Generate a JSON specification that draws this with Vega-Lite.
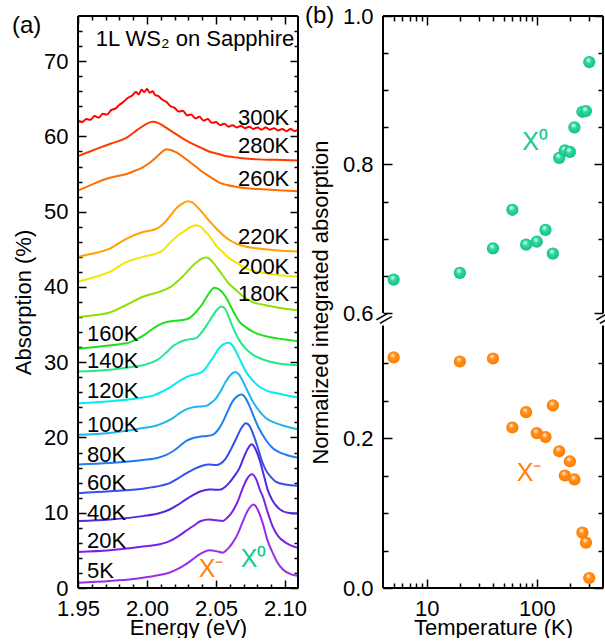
{
"$schema": "https://vega.github.io/schema/vega-lite/v6.json",
"background": "white",
"padding": {"left": 12, "top": 4, "right": 0, "bottom": 0},
"config": {
 "font": "Liberation Sans",
 "view": {"stroke": null},
 "axis": {"labelFont": "Liberation Sans", "labelFontSize": 22, "titleFont": "Liberation Sans", "titleFontSize": 22, "titleFontWeight": "normal", "labelColor": "black", "titleColor": "black", "domainColor": "black", "tickColor": "black", "domainWidth": 2, "tickWidth": 1.5, "grid": false, "labelFlush": false, "labelOverlap": false},
 "text": {"font": "Liberation Sans"}
},
"datasets": {
 "spectra": [
  {"T":"300K","E":1.950,"A":62.1},{"T":"300K","E":1.953,"A":61.9},{"T":"300K","E":1.956,"A":62.3},{"T":"300K","E":1.959,"A":62.2},{"T":"300K","E":1.962,"A":62.7},{"T":"300K","E":1.965,"A":62.5},{"T":"300K","E":1.968,"A":63.0},{"T":"300K","E":1.971,"A":62.9},{"T":"300K","E":1.974,"A":63.5},{"T":"300K","E":1.977,"A":63.7},{"T":"300K","E":1.980,"A":64.2},{"T":"300K","E":1.983,"A":64.6},{"T":"300K","E":1.986,"A":65.1},{"T":"300K","E":1.989,"A":65.4},{"T":"300K","E":1.992,"A":65.9},{"T":"300K","E":1.994,"A":65.6},{"T":"300K","E":1.996,"A":66.2},{"T":"300K","E":1.998,"A":65.9},{"T":"300K","E":2.000,"A":66.3},{"T":"300K","E":2.002,"A":65.8},{"T":"300K","E":2.004,"A":66.0},{"T":"300K","E":2.006,"A":65.5},{"T":"300K","E":2.008,"A":65.4},{"T":"300K","E":2.011,"A":64.9},{"T":"300K","E":2.014,"A":64.6},{"T":"300K","E":2.017,"A":64.0},{"T":"300K","E":2.020,"A":63.8},{"T":"300K","E":2.023,"A":63.3},{"T":"300K","E":2.026,"A":63.4},{"T":"300K","E":2.029,"A":62.8},{"T":"300K","E":2.032,"A":62.9},{"T":"300K","E":2.035,"A":62.4},{"T":"300K","E":2.038,"A":62.6},{"T":"300K","E":2.041,"A":62.1},{"T":"300K","E":2.044,"A":62.3},{"T":"300K","E":2.047,"A":61.8},{"T":"300K","E":2.050,"A":61.9},{"T":"300K","E":2.053,"A":61.5},{"T":"300K","E":2.056,"A":61.7},{"T":"300K","E":2.059,"A":61.3},{"T":"300K","E":2.062,"A":61.5},{"T":"300K","E":2.065,"A":61.2},{"T":"300K","E":2.068,"A":61.4},{"T":"300K","E":2.071,"A":61.1},{"T":"300K","E":2.074,"A":61.3},{"T":"300K","E":2.077,"A":61.0},{"T":"300K","E":2.080,"A":61.2},{"T":"300K","E":2.083,"A":60.9},{"T":"300K","E":2.086,"A":61.2},{"T":"300K","E":2.089,"A":60.9},{"T":"300K","E":2.092,"A":61.1},{"T":"300K","E":2.095,"A":60.8},{"T":"300K","E":2.098,"A":61.0},{"T":"300K","E":2.101,"A":60.7},{"T":"300K","E":2.104,"A":61.0},{"T":"300K","E":2.107,"A":60.7},{"T":"300K","E":2.1094,"A":60.9},
  {"T":"280K","E":1.950,"A":57.4},{"T":"280K","E":1.960,"A":58.1},{"T":"280K","E":1.973,"A":59.0},{"T":"280K","E":1.985,"A":59.8},{"T":"280K","E":1.994,"A":61.0},{"T":"280K","E":2.000,"A":61.7},{"T":"280K","E":2.004,"A":61.95},{"T":"280K","E":2.008,"A":61.8},{"T":"280K","E":2.011,"A":61.5},{"T":"280K","E":2.016,"A":60.9},{"T":"280K","E":2.021,"A":60.3},{"T":"280K","E":2.027,"A":59.6},{"T":"280K","E":2.033,"A":59.0},{"T":"280K","E":2.039,"A":58.5},{"T":"280K","E":2.045,"A":58.0},{"T":"280K","E":2.051,"A":57.7},{"T":"280K","E":2.057,"A":57.4},{"T":"280K","E":2.063,"A":57.25},{"T":"280K","E":2.069,"A":57.1},{"T":"280K","E":2.081,"A":56.95},{"T":"280K","E":2.093,"A":56.9},{"T":"280K","E":2.1094,"A":56.8},
  {"T":"260K","E":1.950,"A":52.8},{"T":"260K","E":1.960,"A":53.6},{"T":"260K","E":1.973,"A":54.5},{"T":"260K","E":1.985,"A":55.0},{"T":"260K","E":1.992,"A":55.5},{"T":"260K","E":1.997,"A":55.9},{"T":"260K","E":2.002,"A":56.5},{"T":"260K","E":2.0065,"A":57.2},{"T":"260K","E":2.010,"A":57.8},{"T":"260K","E":2.014,"A":58.3},{"T":"260K","E":2.017,"A":58.2},{"T":"260K","E":2.021,"A":57.9},{"T":"260K","E":2.026,"A":57.3},{"T":"260K","E":2.031,"A":56.6},{"T":"260K","E":2.036,"A":55.9},{"T":"260K","E":2.040,"A":55.3},{"T":"260K","E":2.046,"A":54.6},{"T":"260K","E":2.052,"A":53.9},{"T":"260K","E":2.058,"A":53.55},{"T":"260K","E":2.0645,"A":53.3},{"T":"260K","E":2.072,"A":53.1},{"T":"260K","E":2.081,"A":53.0},{"T":"260K","E":2.095,"A":52.85},{"T":"260K","E":2.1094,"A":52.7},
  {"T":"220K","E":1.950,"A":44.0},{"T":"220K","E":1.960,"A":44.4},{"T":"220K","E":1.973,"A":45.1},{"T":"220K","E":1.985,"A":46.4},{"T":"220K","E":1.997,"A":47.3},{"T":"220K","E":2.0065,"A":47.7},{"T":"220K","E":2.010,"A":48.1},{"T":"220K","E":2.014,"A":48.8},{"T":"220K","E":2.018,"A":49.7},{"T":"220K","E":2.021,"A":50.4},{"T":"220K","E":2.025,"A":51.0},{"T":"220K","E":2.0295,"A":51.4},{"T":"220K","E":2.033,"A":51.2},{"T":"220K","E":2.0355,"A":50.8},{"T":"220K","E":2.040,"A":49.9},{"T":"220K","E":2.045,"A":48.8},{"T":"220K","E":2.050,"A":47.8},{"T":"220K","E":2.055,"A":46.9},{"T":"220K","E":2.060,"A":46.2},{"T":"220K","E":2.0645,"A":45.75},{"T":"220K","E":2.072,"A":45.35},{"T":"220K","E":2.081,"A":45.1},{"T":"220K","E":2.095,"A":44.85},{"T":"220K","E":2.1094,"A":44.7},
  {"T":"200K","E":1.950,"A":40.7},{"T":"200K","E":1.960,"A":41.2},{"T":"200K","E":1.973,"A":42.0},{"T":"200K","E":1.985,"A":43.3},{"T":"200K","E":1.997,"A":44.0},{"T":"200K","E":2.006,"A":44.4},{"T":"200K","E":2.011,"A":44.8},{"T":"200K","E":2.016,"A":45.75},{"T":"200K","E":2.021,"A":46.6},{"T":"200K","E":2.026,"A":47.3},{"T":"200K","E":2.031,"A":47.9},{"T":"200K","E":2.0355,"A":48.2},{"T":"200K","E":2.039,"A":48.0},{"T":"200K","E":2.0415,"A":47.5},{"T":"200K","E":2.046,"A":46.6},{"T":"200K","E":2.050,"A":45.5},{"T":"200K","E":2.055,"A":44.6},{"T":"200K","E":2.0597,"A":43.8},{"T":"200K","E":2.065,"A":43.2},{"T":"200K","E":2.069,"A":42.7},{"T":"200K","E":2.076,"A":42.2},{"T":"200K","E":2.084,"A":41.9},{"T":"200K","E":2.095,"A":41.6},{"T":"200K","E":2.1094,"A":41.4},
  {"T":"180K","E":1.950,"A":36.0},{"T":"180K","E":1.960,"A":36.2},{"T":"180K","E":1.973,"A":36.6},{"T":"180K","E":1.985,"A":37.6},{"T":"180K","E":1.997,"A":38.7},{"T":"180K","E":2.009,"A":39.35},{"T":"180K","E":2.014,"A":39.7},{"T":"180K","E":2.0186,"A":40.2},{"T":"180K","E":2.023,"A":40.9},{"T":"180K","E":2.028,"A":41.8},{"T":"180K","E":2.032,"A":42.6},{"T":"180K","E":2.0355,"A":43.2},{"T":"180K","E":2.039,"A":43.7},{"T":"180K","E":2.0428,"A":43.9},{"T":"180K","E":2.0455,"A":43.7},{"T":"180K","E":2.0476,"A":43.3},{"T":"180K","E":2.051,"A":42.5},{"T":"180K","E":2.0548,"A":41.55},{"T":"180K","E":2.059,"A":40.5},{"T":"180K","E":2.0645,"A":39.6},{"T":"180K","E":2.070,"A":38.7},{"T":"180K","E":2.0766,"A":38.0},{"T":"180K","E":2.085,"A":37.6},{"T":"180K","E":2.0935,"A":37.3},{"T":"180K","E":2.1094,"A":36.9},
  {"T":"160K","E":1.950,"A":31.8},{"T":"160K","E":1.966,"A":32.1},{"T":"160K","E":1.980,"A":32.4},{"T":"160K","E":1.987,"A":32.6},{"T":"160K","E":1.993,"A":33.1},{"T":"160K","E":1.997,"A":33.5},{"T":"160K","E":2.0046,"A":34.5},{"T":"160K","E":2.009,"A":35.0},{"T":"160K","E":2.0143,"A":35.35},{"T":"160K","E":2.021,"A":35.5},{"T":"160K","E":2.026,"A":35.6},{"T":"160K","E":2.031,"A":35.9},{"T":"160K","E":2.0336,"A":36.3},{"T":"160K","E":2.037,"A":37.0},{"T":"160K","E":2.040,"A":37.7},{"T":"160K","E":2.044,"A":38.9},{"T":"160K","E":2.0488,"A":39.9},{"T":"160K","E":2.052,"A":39.7},{"T":"160K","E":2.057,"A":38.7},{"T":"160K","E":2.061,"A":37.3},{"T":"160K","E":2.0645,"A":36.1},{"T":"160K","E":2.0669,"A":35.4},{"T":"160K","E":2.072,"A":34.6},{"T":"160K","E":2.0766,"A":34.05},{"T":"160K","E":2.085,"A":33.5},{"T":"160K","E":2.0935,"A":33.2},{"T":"160K","E":2.1094,"A":32.8},
  {"T":"140K","E":1.950,"A":28.75},{"T":"140K","E":1.973,"A":29.0},{"T":"140K","E":1.990,"A":29.4},{"T":"140K","E":1.997,"A":29.6},{"T":"140K","E":2.004,"A":30.0},{"T":"140K","E":2.009,"A":30.5},{"T":"140K","E":2.014,"A":31.3},{"T":"140K","E":2.0186,"A":32.1},{"T":"140K","E":2.023,"A":32.6},{"T":"140K","E":2.028,"A":32.95},{"T":"140K","E":2.0355,"A":33.2},{"T":"140K","E":2.040,"A":34.05},{"T":"140K","E":2.045,"A":35.4},{"T":"140K","E":2.050,"A":36.8},{"T":"140K","E":2.054,"A":37.4},{"T":"140K","E":2.057,"A":37.0},{"T":"140K","E":2.0597,"A":35.8},{"T":"140K","E":2.063,"A":34.3},{"T":"140K","E":2.0669,"A":32.9},{"T":"140K","E":2.071,"A":31.9},{"T":"140K","E":2.0766,"A":31.0},{"T":"140K","E":2.085,"A":30.3},{"T":"140K","E":2.0935,"A":29.9},{"T":"140K","E":2.1094,"A":29.6},
  {"T":"120K","E":1.950,"A":24.55},{"T":"120K","E":1.973,"A":24.8},{"T":"120K","E":1.997,"A":25.3},{"T":"120K","E":2.005,"A":25.6},{"T":"120K","E":2.011,"A":26.1},{"T":"120K","E":2.016,"A":26.6},{"T":"120K","E":2.021,"A":27.2},{"T":"120K","E":2.026,"A":27.8},{"T":"120K","E":2.031,"A":28.2},{"T":"120K","E":2.035,"A":28.4},{"T":"120K","E":2.039,"A":28.6},{"T":"120K","E":2.042,"A":29.1},{"T":"120K","E":2.045,"A":29.85},{"T":"120K","E":2.0485,"A":30.8},{"T":"120K","E":2.052,"A":31.8},{"T":"120K","E":2.0555,"A":32.4},{"T":"120K","E":2.0592,"A":32.6},{"T":"120K","E":2.062,"A":32.2},{"T":"120K","E":2.0645,"A":31.4},{"T":"120K","E":2.068,"A":30.1},{"T":"120K","E":2.0717,"A":28.75},{"T":"120K","E":2.076,"A":27.7},{"T":"120K","E":2.081,"A":26.8},{"T":"120K","E":2.087,"A":26.2},{"T":"120K","E":2.0935,"A":25.9},{"T":"120K","E":2.1094,"A":25.3},
  {"T":"100K","E":1.950,"A":20.35},{"T":"100K","E":1.973,"A":20.6},{"T":"100K","E":1.997,"A":21.25},{"T":"100K","E":2.007,"A":21.6},{"T":"100K","E":2.014,"A":22.1},{"T":"100K","E":2.019,"A":22.6},{"T":"100K","E":2.0234,"A":23.2},{"T":"100K","E":2.028,"A":23.7},{"T":"100K","E":2.033,"A":24.0},{"T":"100K","E":2.038,"A":24.1},{"T":"100K","E":2.0428,"A":24.2},{"T":"100K","E":2.0465,"A":24.6},{"T":"100K","E":2.050,"A":25.2},{"T":"100K","E":2.0535,"A":26.2},{"T":"100K","E":2.057,"A":27.4},{"T":"100K","E":2.0605,"A":28.3},{"T":"100K","E":2.064,"A":28.7},{"T":"100K","E":2.0665,"A":28.4},{"T":"100K","E":2.069,"A":27.65},{"T":"100K","E":2.0725,"A":26.3},{"T":"100K","E":2.0766,"A":24.8},{"T":"100K","E":2.081,"A":23.6},{"T":"100K","E":2.086,"A":22.6},{"T":"100K","E":2.092,"A":22.0},{"T":"100K","E":2.0983,"A":21.6},{"T":"100K","E":2.1094,"A":21.1},
  {"T":"80K","E":1.950,"A":16.4},{"T":"80K","E":1.973,"A":16.6},{"T":"80K","E":1.997,"A":17.0},{"T":"80K","E":2.008,"A":17.3},{"T":"80K","E":2.014,"A":17.7},{"T":"80K","E":2.019,"A":18.2},{"T":"80K","E":2.0234,"A":18.8},{"T":"80K","E":2.028,"A":19.5},{"T":"80K","E":2.033,"A":19.9},{"T":"80K","E":2.038,"A":20.1},{"T":"80K","E":2.0435,"A":20.2},{"T":"80K","E":2.0476,"A":20.35},{"T":"80K","E":2.0515,"A":21.0},{"T":"80K","E":2.055,"A":22.1},{"T":"80K","E":2.0585,"A":23.5},{"T":"80K","E":2.062,"A":24.8},{"T":"80K","E":2.0655,"A":25.5},{"T":"80K","E":2.0686,"A":25.7},{"T":"80K","E":2.0715,"A":25.2},{"T":"80K","E":2.074,"A":24.3},{"T":"80K","E":2.0775,"A":22.7},{"T":"80K","E":2.081,"A":21.25},{"T":"80K","E":2.086,"A":19.7},{"T":"80K","E":2.091,"A":18.6},{"T":"80K","E":2.1007,"A":17.7},{"T":"80K","E":2.1094,"A":17.3},
  {"T":"60K","E":1.950,"A":12.6},{"T":"60K","E":1.973,"A":12.85},{"T":"60K","E":1.997,"A":13.2},{"T":"60K","E":2.010,"A":13.6},{"T":"60K","E":2.016,"A":13.9},{"T":"60K","E":2.022,"A":14.5},{"T":"60K","E":2.028,"A":15.2},{"T":"60K","E":2.034,"A":15.8},{"T":"60K","E":2.040,"A":16.25},{"T":"60K","E":2.045,"A":16.4},{"T":"60K","E":2.050,"A":16.35},{"T":"60K","E":2.053,"A":16.5},{"T":"60K","E":2.057,"A":17.2},{"T":"60K","E":2.061,"A":18.5},{"T":"60K","E":2.065,"A":20.0},{"T":"60K","E":2.0685,"A":21.3},{"T":"60K","E":2.0717,"A":21.9},{"T":"60K","E":2.0745,"A":21.5},{"T":"60K","E":2.077,"A":20.4},{"T":"60K","E":2.080,"A":18.8},{"T":"60K","E":2.083,"A":17.0},{"T":"60K","E":2.086,"A":15.7},{"T":"60K","E":2.090,"A":14.7},{"T":"60K","E":2.0935,"A":14.1},{"T":"60K","E":2.100,"A":13.75},{"T":"60K","E":2.1094,"A":13.6},
  {"T":"40K","E":1.950,"A":8.9},{"T":"40K","E":1.973,"A":9.1},{"T":"40K","E":1.997,"A":9.55},{"T":"40K","E":2.010,"A":10.0},{"T":"40K","E":2.016,"A":10.4},{"T":"40K","E":2.022,"A":11.0},{"T":"40K","E":2.028,"A":11.75},{"T":"40K","E":2.034,"A":12.4},{"T":"40K","E":2.039,"A":12.85},{"T":"40K","E":2.045,"A":13.1},{"T":"40K","E":2.050,"A":13.05},{"T":"40K","E":2.0536,"A":13.1},{"T":"40K","E":2.057,"A":13.5},{"T":"40K","E":2.0597,"A":14.0},{"T":"40K","E":2.063,"A":14.8},{"T":"40K","E":2.0669,"A":15.9},{"T":"40K","E":2.070,"A":17.3},{"T":"40K","E":2.073,"A":18.5},{"T":"40K","E":2.0759,"A":19.1},{"T":"40K","E":2.0785,"A":18.5},{"T":"40K","E":2.0819,"A":16.8},{"T":"40K","E":2.085,"A":14.7},{"T":"40K","E":2.0875,"A":13.0},{"T":"40K","E":2.091,"A":11.6},{"T":"40K","E":2.0959,"A":10.5},{"T":"40K","E":2.102,"A":10.0},{"T":"40K","E":2.1094,"A":9.9},
  {"T":"20K","E":1.950,"A":4.77},{"T":"20K","E":1.973,"A":5.0},{"T":"20K","E":1.997,"A":5.5},{"T":"20K","E":2.010,"A":5.85},{"T":"20K","E":2.016,"A":6.2},{"T":"20K","E":2.022,"A":6.8},{"T":"20K","E":2.028,"A":7.55},{"T":"20K","E":2.034,"A":8.3},{"T":"20K","E":2.039,"A":8.9},{"T":"20K","E":2.045,"A":9.1},{"T":"20K","E":2.050,"A":9.0},{"T":"20K","E":2.0548,"A":8.9},{"T":"20K","E":2.058,"A":9.3},{"T":"20K","E":2.062,"A":10.2},{"T":"20K","E":2.066,"A":11.6},{"T":"20K","E":2.069,"A":13.1},{"T":"20K","E":2.0725,"A":14.5},{"T":"20K","E":2.0761,"A":15.1},{"T":"20K","E":2.079,"A":14.5},{"T":"20K","E":2.0819,"A":13.0},{"T":"20K","E":2.0838,"A":12.2},{"T":"20K","E":2.087,"A":10.3},{"T":"20K","E":2.091,"A":8.2},{"T":"20K","E":2.095,"A":6.9},{"T":"20K","E":2.1007,"A":6.0},{"T":"20K","E":2.105,"A":5.6},{"T":"20K","E":2.1094,"A":5.35},
  {"T":"5K","E":1.950,"A":0.7},{"T":"5K","E":1.973,"A":0.93},{"T":"5K","E":1.990,"A":1.2},{"T":"5K","E":1.997,"A":1.37},{"T":"5K","E":2.008,"A":1.7},{"T":"5K","E":2.016,"A":2.03},{"T":"5K","E":2.022,"A":2.5},{"T":"5K","E":2.028,"A":3.14},{"T":"5K","E":2.033,"A":3.8},{"T":"5K","E":2.038,"A":4.46},{"T":"5K","E":2.042,"A":4.85},{"T":"5K","E":2.045,"A":5.0},{"T":"5K","E":2.050,"A":4.9},{"T":"5K","E":2.0548,"A":4.7},{"T":"5K","E":2.058,"A":5.1},{"T":"5K","E":2.062,"A":6.0},{"T":"5K","E":2.066,"A":7.3},{"T":"5K","E":2.069,"A":8.65},{"T":"5K","E":2.073,"A":10.3},{"T":"5K","E":2.0773,"A":11.1},{"T":"5K","E":2.0805,"A":10.3},{"T":"5K","E":2.0838,"A":8.65},{"T":"5K","E":2.087,"A":6.5},{"T":"5K","E":2.091,"A":4.7},{"T":"5K","E":2.0945,"A":3.4},{"T":"5K","E":2.0983,"A":2.5},{"T":"5K","E":2.104,"A":1.85},{"T":"5K","E":2.1094,"A":1.6}
 ],
 "labelsRight": [
  {"label":"300K","E":2.1031,"A":62.5},{"label":"280K","E":2.1031,"A":58.7},{"label":"260K","E":2.1031,"A":54.3},{"label":"220K","E":2.1031,"A":46.6},{"label":"200K","E":2.1031,"A":42.7},{"label":"180K","E":2.1031,"A":39.0}
 ],
 "labelsLeft": [
  {"label":"160K","E":1.9565,"A":33.7},{"label":"140K","E":1.9565,"A":30.2},{"label":"120K","E":1.9565,"A":26.2},{"label":"100K","E":1.9565,"A":21.7},{"label":"80K","E":1.9565,"A":17.7},{"label":"60K","E":1.9565,"A":13.9},{"label":"40K","E":1.9565,"A":9.9},{"label":"20K","E":1.9565,"A":6.2},{"label":"5K","E":1.9565,"A":2.25}
 ],
 "peakTrion": [{"label":"X⁻","E":2.0464,"A":2.52}],
 "peakExciton": [{"label":"X⁰","E":2.0772,"A":3.9}],
 "sample": [{"label":"1L WS₂ on Sapphire","E":2.0348,"A":73.0}],
 "integrated": [
  {"T":5,"X0":0.645,"Xm":0.3075},{"T":20,"X0":0.654,"Xm":0.302},{"T":40,"X0":0.687,"Xm":0.306},{"T":60,"X0":0.739,"Xm":0.214},{"T":80,"X0":0.692,"Xm":0.2345},{"T":100,"X0":0.696,"Xm":0.2066},{"T":120,"X0":0.712,"Xm":0.2013},{"T":140,"X0":0.680,"Xm":0.2434},{"T":160,"X0":0.809,"Xm":0.1823},{"T":180,"X0":0.819,"Xm":0.150},{"T":200,"X0":0.817,"Xm":0.169},{"T":220,"X0":0.850,"Xm":0.1447},{"T":260,"X0":0.871,"Xm":0.0739},{"T":280,"X0":0.872,"Xm":0.0606},{"T":300,"X0":0.938,"Xm":0.0133}
 ],
 "tagExciton": [{"label":"X⁰","T":96.5,"v":0.83}],
 "tagTrion": [{"label":"X⁻","T":85,"v":0.153}],
 "segments": [{"lo":0,"hi":0.35},{"lo":0.6,"hi":1.0}],
 "sidesA": [{"lo":0,"hi":38},{"lo":38,"hi":76}],
 "edgesA": [{"from":1.95,"to":2.03},{"from":2.03,"to":2.1094}],
 "edgesB": [{"from":4,"to":40},{"from":40,"to":400}],
 "one": [{}]
},
"bounds": "flush",
"spacing": 85,
"hconcat": [
 {
  "width": 220, "height": 572,
  "title": {"text": "(a)", "anchor": "start", "frame": "group", "dx": -66, "dy": 27, "fontSize": 24, "fontWeight": "normal", "font": "Liberation Sans", "color": "black"},
  "resolve": {"axis": {"x": "independent", "y": "independent"}},
  "layer": [
   {
    "data": {"name": "spectra"},
    "mark": {"type": "line", "strokeWidth": 2, "interpolate": "monotone", "clip": true},
    "encoding": {
     "x": {"field": "E", "type": "quantitative", "scale": {"domain": [1.95, 2.1094], "nice": false, "zero": false},
           "axis": {"orient": "bottom", "values": [1.95, 2.0, 2.05, 2.1], "format": ".2f", "title": "Energy (eV)", "domain": false, "tickSize": 8, "offset": -8, "labelPadding": 10, "titlePadding": -2}},
     "y": {"field": "A", "type": "quantitative", "scale": {"domain": [0, 76], "nice": false, "zero": false},
           "axis": {"orient": "left", "values": [0, 10, 20, 30, 40, 50, 60, 70], "title": "Absorption (%)", "domain": false, "tickSize": 8, "offset": -8, "labelPadding": 10, "titlePadding": 8}},
     "color": {"field": "T", "type": "nominal", "legend": null,
       "scale": {"domain": ["300K","280K","260K","220K","200K","180K","160K","140K","120K","100K","80K","60K","40K","20K","5K"],
                 "range": ["#ff0000","#ff3a00","#ff6e00","#ffa200","#f2e600","#8ee000","#1ee01e","#22e88c","#08eaf2","#21b4f0","#1f7cf2","#3550ec","#5626e0","#7a22e6","#9a2ee8"]}}
    }
   },
   {
    "data": {"name": "labelsRight"},
    "mark": {"type": "text", "align": "right", "baseline": "middle", "fontSize": 22, "color": "black"},
    "encoding": {
     "x": {"field": "E", "type": "quantitative", "axis": {"orient": "bottom", "values": [1.96,1.97,1.98,1.99,2.01,2.02,2.03,2.04,2.06,2.07,2.08,2.09], "labels": false, "domain": false, "title": null, "tickSize": 4, "offset": -4}},
     "y": {"field": "A", "type": "quantitative", "axis": {"orient": "left", "values": [2,4,6,8,12,14,16,18,22,24,26,28,32,34,36,38,42,44,46,48,52,54,56,58,62,64,66,68,72,74], "labels": false, "domain": false, "title": null, "tickSize": 4, "offset": -4}},
     "text": {"field": "label"}
    }
   },
   {
    "data": {"name": "labelsLeft"},
    "mark": {"type": "text", "align": "left", "baseline": "middle", "fontSize": 22, "color": "black"},
    "encoding": {
     "x": {"field": "E", "type": "quantitative", "axis": {"orient": "top", "values": [1.95, 2.0, 2.05, 2.1], "labels": false, "domain": false, "title": null, "tickSize": 8, "offset": -8}},
     "y": {"field": "A", "type": "quantitative", "axis": {"orient": "right", "values": [0, 10, 20, 30, 40, 50, 60, 70], "labels": false, "domain": false, "title": null, "tickSize": 8, "offset": -8}},
     "text": {"field": "label"}
    }
   },
   {
    "data": {"name": "peakTrion"},
    "mark": {"type": "text", "align": "center", "baseline": "middle", "fontSize": 25, "color": "#ff8210"},
    "encoding": {
     "x": {"field": "E", "type": "quantitative", "axis": {"orient": "top", "values": [1.96,1.97,1.98,1.99,2.01,2.02,2.03,2.04,2.06,2.07,2.08,2.09], "labels": false, "domain": false, "title": null, "tickSize": 4, "offset": -4}},
     "y": {"field": "A", "type": "quantitative", "axis": {"orient": "right", "values": [2,4,6,8,12,14,16,18,22,24,26,28,32,34,36,38,42,44,46,48,52,54,56,58,62,64,66,68,72,74], "labels": false, "domain": false, "title": null, "tickSize": 4, "offset": -4}},
     "text": {"field": "label"}
    }
   },
   {
    "data": {"name": "peakExciton"},
    "mark": {"type": "text", "align": "center", "baseline": "middle", "fontSize": 25, "color": "#17c98e"},
    "encoding": {
     "x": {"field": "E", "type": "quantitative", "axis": null},
     "y": {"field": "A", "type": "quantitative", "axis": null},
     "text": {"field": "label"}
    }
   },
   {
    "data": {"name": "sample"},
    "mark": {"type": "text", "align": "center", "baseline": "middle", "fontSize": 22, "color": "black"},
    "encoding": {
     "x": {"field": "E", "type": "quantitative", "axis": null},
     "y": {"field": "A", "type": "quantitative", "axis": null},
     "text": {"field": "label"}
    }
   },
   {"data": {"name": "sidesA"}, "mark": {"type": "rule", "strokeWidth": 2, "color": "black"},
    "encoding": {"x": {"datum": 1.95, "type": "quantitative", "axis": null}, "y": {"field": "lo", "type": "quantitative", "axis": null}, "y2": {"field": "hi"}}},
   {"data": {"name": "sidesA"}, "mark": {"type": "rule", "strokeWidth": 2, "color": "black"},
    "encoding": {"x": {"datum": 2.1094, "type": "quantitative", "axis": null}, "y": {"field": "lo", "type": "quantitative", "axis": null}, "y2": {"field": "hi"}}},
   {"data": {"name": "edgesA"}, "mark": {"type": "rule", "strokeWidth": 2, "color": "black"},
    "encoding": {"y": {"datum": 0, "type": "quantitative", "axis": null}, "x": {"field": "from", "type": "quantitative", "axis": null}, "x2": {"field": "to"}}},
   {"data": {"name": "edgesA"}, "mark": {"type": "rule", "strokeWidth": 2, "color": "black"},
    "encoding": {"y": {"datum": 76, "type": "quantitative", "axis": null}, "x": {"field": "from", "type": "quantitative", "axis": null}, "x2": {"field": "to"}}}
  ]
 },
 {
  "width": 220, "height": 572,
  "title": {"text": "(b)", "anchor": "start", "frame": "group", "dx": -78, "dy": 27, "fontSize": 24, "fontWeight": "normal", "font": "Liberation Sans", "color": "black"},
  "resolve": {"axis": {"x": "independent", "y": "independent"}},
  "layer": [
   {
    "data": {"name": "integrated"},
    "mark": {"type": "point", "shape": "circle", "filled": true, "size": 150, "opacity": 1, "strokeWidth": 0,
             "fill": {"gradient": "radial", "x1": 0.4, "y1": 0.3, "r1": 0, "x2": 0.5, "y2": 0.5, "r2": 0.55,
                      "stops": [{"offset": 0, "color": "#ffffff"}, {"offset": 0.15, "color": "#b5f5dc"}, {"offset": 0.4, "color": "#2fd9a0"}, {"offset": 0.85, "color": "#17c48b"}, {"offset": 1, "color": "#10b07c"}]}},
    "encoding": {
     "x": {"field": "T", "type": "quantitative", "scale": {"type": "log", "domain": [4, 400], "nice": false},
           "axis": {"orient": "bottom", "values": [10, 100], "format": "d", "title": "Temperature (K)", "domain": false, "tickSize": 9, "offset": -9, "labelPadding": 10, "titlePadding": -2}},
     "y": {"field": "X0", "type": "quantitative", "scale": {"type": "linear", "domain": [0, 0.35, 0.6, 1.0], "range": [572, 309.5, 297, 0], "nice": false, "zero": false},
           "axis": {"orient": "left", "values": [0, 0.2, 0.6, 0.8, 1.0], "format": ".1f", "title": "Normalized integrated absorption", "domain": false, "tickSize": 9, "offset": -9, "labelPadding": 10, "titlePadding": 10}}
    }
   },
   {
    "data": {"name": "integrated"},
    "mark": {"type": "point", "shape": "circle", "filled": true, "size": 150, "opacity": 1, "strokeWidth": 0,
             "fill": {"gradient": "radial", "x1": 0.4, "y1": 0.3, "r1": 0, "x2": 0.5, "y2": 0.5, "r2": 0.55,
                      "stops": [{"offset": 0, "color": "#ffffff"}, {"offset": 0.15, "color": "#ffd0a0"}, {"offset": 0.4, "color": "#ff9020"}, {"offset": 0.85, "color": "#ff7f00"}, {"offset": 1, "color": "#f07000"}]}},
    "encoding": {
     "x": {"field": "T", "type": "quantitative", "axis": {"orient": "bottom", "values": [5,6,7,8,9,20,30,40,50,60,70,80,90,200,300], "labels": false, "domain": false, "title": null, "tickSize": 5, "offset": -5}},
     "y": {"field": "Xm", "type": "quantitative", "axis": {"orient": "left", "values": [0.05,0.1,0.15,0.25,0.3,0.65,0.7,0.75,0.85,0.9,0.95], "labels": false, "domain": false, "title": null, "tickSize": 5, "offset": -5}}
    }
   },
   {
    "data": {"name": "tagExciton"},
    "mark": {"type": "text", "align": "center", "baseline": "middle", "fontSize": 25, "color": "#17c98e"},
    "encoding": {
     "x": {"field": "T", "type": "quantitative", "axis": {"orient": "top", "values": [10, 100], "labels": false, "domain": false, "title": null, "tickSize": 9, "offset": -9}},
     "y": {"field": "v", "type": "quantitative", "axis": {"orient": "right", "values": [0, 0.2, 0.6, 0.8, 1.0], "labels": false, "domain": false, "title": null, "tickSize": 9, "offset": -9}},
     "text": {"field": "label"}
    }
   },
   {
    "data": {"name": "tagTrion"},
    "mark": {"type": "text", "align": "center", "baseline": "middle", "fontSize": 25, "color": "#ff8210"},
    "encoding": {
     "x": {"field": "T", "type": "quantitative", "axis": {"orient": "top", "values": [5,6,7,8,9,20,30,40,50,60,70,80,90,200,300], "labels": false, "domain": false, "title": null, "tickSize": 5, "offset": -5}},
     "y": {"field": "v", "type": "quantitative", "axis": {"orient": "right", "values": [0.05,0.1,0.15,0.25,0.3,0.65,0.7,0.75,0.85,0.9,0.95], "labels": false, "domain": false, "title": null, "tickSize": 5, "offset": -5}},
     "text": {"field": "label"}
    }
   },
   {
    "data": {"name": "segments"},
    "mark": {"type": "rule", "strokeWidth": 2, "color": "black"},
    "encoding": {"x": {"datum": 4, "type": "quantitative", "axis": null}, "y": {"field": "lo", "type": "quantitative", "axis": null}, "y2": {"field": "hi"}}
   },
   {
    "data": {"name": "segments"},
    "mark": {"type": "rule", "strokeWidth": 2, "color": "black"},
    "encoding": {"x": {"datum": 400, "type": "quantitative", "axis": null}, "y": {"field": "lo", "type": "quantitative", "axis": null}, "y2": {"field": "hi"}}
   },
   {"data": {"name": "edgesB"}, "mark": {"type": "rule", "strokeWidth": 2, "color": "black"},
    "encoding": {"y": {"datum": 0, "type": "quantitative", "axis": null}, "x": {"field": "from", "type": "quantitative", "axis": null}, "x2": {"field": "to"}}},
   {"data": {"name": "edgesB"}, "mark": {"type": "rule", "strokeWidth": 2, "color": "black"},
    "encoding": {"y": {"datum": 1.0, "type": "quantitative", "axis": null}, "x": {"field": "from", "type": "quantitative", "axis": null}, "x2": {"field": "to"}}},
   {
    "data": {"name": "one"},
    "mark": {"type": "text", "text": "//", "fontSize": 18, "angle": 45, "align": "center", "baseline": "middle", "color": "black"},
    "encoding": {"x": {"datum": 4, "type": "quantitative", "axis": null}, "y": {"datum": 0.475, "type": "quantitative", "axis": null}}
   },
   {
    "data": {"name": "one"},
    "mark": {"type": "text", "text": "//", "fontSize": 18, "angle": 45, "align": "center", "baseline": "middle", "color": "black"},
    "encoding": {"x": {"datum": 400, "type": "quantitative", "axis": null}, "y": {"datum": 0.475, "type": "quantitative", "axis": null}}
   }
  ]
 }
]
}
